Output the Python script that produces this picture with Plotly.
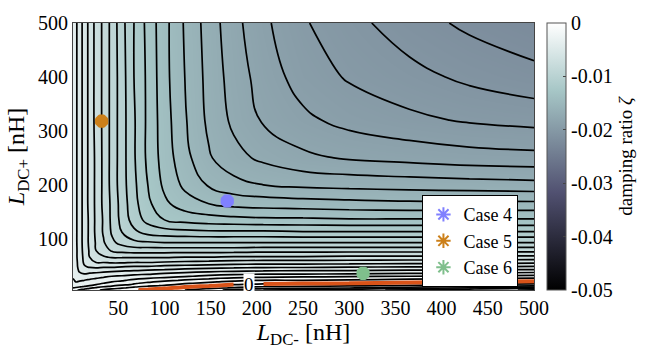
import numpy as np
import plotly.graph_objects as go

# L_DC- grid [nH] (columns) and L_DC+ grid [nH] (rows)
l_dc_minus = [1, 4, 8, 13, 19, 26, 34, 43, 54, 67, 82, 100, 122, 148, 175, 207, 250, 300, 365, 430, 500]
l_dc_plus = [5, 7, 9, 11, 13, 15, 17.5, 20, 23, 26.5, 30.5, 35, 41, 48, 56, 66, 78, 93, 112, 135, 165, 200, 250, 320, 400, 500]

# -zeta x 1e4, one row per L_DC+ value
neg_zeta_e4 = [
    [20, 19, 17, 15, 13, 10, 8, 6, 4, 1, -2, -5, -9, -13, -22, -27, -29, -33, -38, -42, -46],
    [23, 22, 21, 19, 16, 14, 11, 9, 7, 4, 2, -2, -6, -10, -15, -19, -22, -25, -30, -35, -41],
    [27, 26, 24, 22, 20, 17, 15, 12, 10, 7, 4, 2, -2, -6, -10, -12, -14, -17, -22, -27, -33],
    [29, 29, 28, 26, 23, 21, 18, 16, 13, 10, 7, 5, 1, -3, -7, -9, -10, -12, -15, -20, -25],
    [32, 31, 30, 29, 27, 24, 21, 19, 16, 13, 11, 8, 4, 1, -3, -5, -7, -8, -10, -13, -17],
    [33, 34, 33, 32, 30, 27, 25, 23, 20, 17, 14, 11, 7, 4, 0, -2, -3, -5, -7, -9, -12],
    [34, 35, 34, 33, 31, 29, 27, 25, 22, 19, 16, 14, 10, 7, 4, 2, 1, 0, -2, -5, -7],
    [34, 36, 35, 34, 33, 31, 29, 27, 25, 22, 19, 16, 13, 10, 7, 5, 4, 3, 2, 0, -2],
    [35, 37, 37, 36, 35, 33, 31, 30, 28, 25, 23, 20, 17, 14, 11, 9, 9, 8, 6, 4, 3],
    [36, 38, 39, 38, 37, 36, 34, 33, 31, 29, 27, 25, 22, 19, 16, 15, 14, 13, 11, 10, 8],
    [36, 39, 41, 41, 40, 39, 38, 36, 35, 33, 32, 30, 28, 25, 23, 21, 20, 19, 18, 17, 15],
    [37, 41, 44, 45, 44, 43, 42, 41, 40, 38, 37, 35, 33, 31, 29, 28, 28, 27, 26, 25, 23],
    [37, 42, 46, 49, 49, 49, 48, 47, 46, 45, 44, 43, 41, 39, 38, 37, 36, 36, 35, 34, 33],
    [37, 42, 48, 53, 55, 56, 55, 55, 54, 53, 53, 51, 50, 49, 48, 47, 47, 46, 45, 45, 44],
    [37, 42, 49, 55, 60, 63, 63, 64, 64, 63, 63, 62, 61, 60, 59, 58, 58, 58, 57, 57, 56],
    [37, 43, 49, 56, 63, 68, 71, 73, 73, 73, 73, 73, 72, 72, 71, 71, 71, 70, 70, 70, 69],
    [38, 43, 49, 57, 64, 72, 77, 82, 84, 85, 85, 85, 85, 85, 85, 84, 84, 84, 84, 84, 84],
    [38, 43, 50, 57, 65, 73, 80, 88, 93, 97, 98, 99, 99, 99, 99, 99, 99, 99, 99, 99, 99],
    [38, 43, 50, 57, 65, 74, 82, 91, 99, 106, 111, 113, 114, 115, 115, 115, 116, 116, 116, 116, 116],
    [38, 43, 50, 57, 65, 74, 82, 92, 102, 112, 120, 126, 129, 131, 132, 133, 133, 134, 134, 134, 134],
    [38, 43, 50, 57, 66, 74, 83, 92, 103, 114, 124, 133, 140, 144, 147, 148, 149, 150, 151, 151, 151],
    [38, 43, 50, 57, 66, 74, 83, 93, 104, 115, 126, 137, 146, 154, 159, 162, 164, 165, 166, 167, 168],
    [38, 43, 50, 57, 66, 74, 83, 93, 104, 116, 128, 139, 150, 161, 168, 173, 178, 181, 183, 185, 186],
    [38, 43, 50, 57, 66, 75, 83, 93, 104, 116, 128, 140, 152, 164, 173, 181, 187, 192, 196, 199, 201],
    [38, 43, 50, 57, 66, 75, 83, 93, 104, 117, 128, 141, 153, 165, 175, 184, 193, 199, 204, 209, 213],
    [38, 43, 50, 57, 66, 75, 83, 93, 105, 117, 129, 141, 154, 166, 177, 187, 197, 204, 212, 218, 223],
]

cases = ["Case 4", "Case 5", "Case 6"]
case_x = [168, 32, 315]
case_y = [170, 318, 36]
case_col = ["#8080FF", "#CC801A", "#7FBF8C"]

cbar_vals = [0, -0.01, -0.02, -0.03, -0.04, -0.05]
cbar_text = ["0", "-0.01", "-0.02", "-0.03", "-0.04", "-0.05"]

Z = -np.array(neg_zeta_e4, dtype=float) / 1e4

FONT = "Liberation Serif"
bone = [[0, "rgb(0,0,0)"], [0.365, "rgb(81,81,113)"], [0.746, "rgb(166,198,198)"], [1, "rgb(255,255,255)"]]

fig = go.Figure()
fig.add_trace(go.Heatmap(x=l_dc_minus, y=l_dc_plus, z=Z, zsmooth="best", colorscale=bone, zmin=-0.05, zmax=0,
    colorbar=dict(x=1.028, xanchor="left", xpad=0, ypad=0, len=1, y=0.5, yanchor="middle", thickness=19,
                  outlinewidth=1, outlinecolor="#555", ticks="inside", ticklen=3,
                  tickvals=cbar_vals, ticktext=cbar_text,
                  tickfont=dict(family=FONT, size=20, color="black"),
                  title=dict(text="damping ratio <i>ζ</i>", side="right", font=dict(family=FONT, size=19, color="black"))),
    hoverinfo="skip"))
fig.add_trace(go.Contour(x=l_dc_minus, y=l_dc_plus, z=Z, contours=dict(start=-0.027, end=0.0108, size=0.0009, coloring="none"),
    line=dict(color="black", width=1.7, smoothing=1.3), showscale=False, hoverinfo="skip", showlegend=False))
ia = [i for i, v in enumerate(l_dc_minus) if v <= 175]
ib = [i for i, v in enumerate(l_dc_minus) if v >= 207]
for idx in (ia, ib):
    fig.add_trace(go.Contour(x=[l_dc_minus[i] for i in idx], y=l_dc_plus, z=Z[:, idx],
        contours=dict(start=0, end=0, size=0.001, coloring="none"),
        line=dict(color="#D95319", width=4, smoothing=1.3), showscale=False, hoverinfo="skip", showlegend=False))

for n, xv, yv, col in zip(cases, case_x, case_y, case_col):
    fig.add_trace(go.Scatter(x=[xv], y=[yv], mode="markers", name=n,
        marker=dict(symbol="asterisk-open", size=11, color=col, line=dict(width=5, color=col))))

fig.add_annotation(x=191.5, y=14.4, text="0", showarrow=False, bgcolor="white", borderpad=0,
                   font=dict(family=FONT, size=19, color="black"))

fig.update_layout(width=648, height=350, margin=dict(l=73, r=108, t=14, b=60),
    paper_bgcolor="white", plot_bgcolor="white", font=dict(family=FONT, size=20, color="black"),
    legend=dict(x=0.758, y=0.355, xanchor="left", yanchor="top", bgcolor="white", bordercolor="black", borderwidth=1,
                font=dict(family=FONT, size=18), tracegroupgap=0, itemsizing="constant"),
    xaxis=dict(range=[1, 500], tickvals=list(range(50, 501, 50)), showline=True, mirror=True, linecolor="#444",
               ticks="", showgrid=False, zeroline=False, title=dict(text="<i>L</i><sub>DC-</sub> [nH]", standoff=2)),
    yaxis=dict(range=[5, 500], tickvals=[100, 200, 300, 400, 500], showline=True, mirror=True, linecolor="#444",
               ticks="", showgrid=False, zeroline=False, title=dict(text="<i>L</i><sub>DC+</sub> [nH]", standoff=6)))
fig.write_html("out.html")
